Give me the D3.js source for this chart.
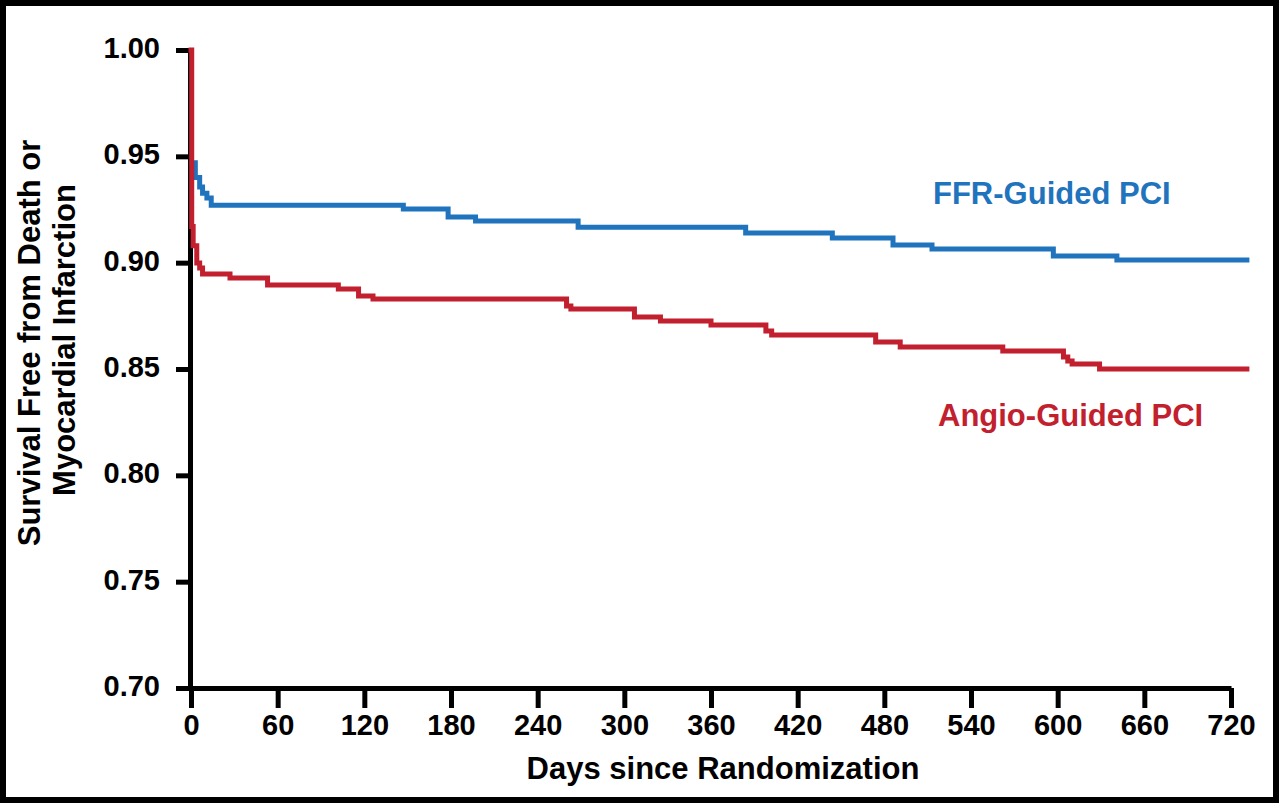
<!DOCTYPE html>
<html>
<head>
<meta charset="utf-8">
<script src="https://cdn.jsdelivr.net/npm/d3@7"></script>
<style>
	body { margin: 0; background: #fff; }
	svg { display: block; font-family: "Liberation Sans", Arial, sans-serif; font-weight: bold; }
</style>
</head>
<body>
<svg id="chart" width="1280" height="805"></svg>
<script>
// Kaplan-Meier steps (day, survival)
var ffrDays = [0.8, 3, 6, 8, 11, 14, 147, 178, 197, 268, 384, 444, 486, 513, 597, 641, 731];
var ffrSurv = [0.947, 0.940, 0.9356, 0.9327, 0.9304, 0.927, 0.9252, 0.9215, 0.9196, 0.9167, 0.914, 0.9116, 0.9083, 0.9064, 0.9031, 0.9013, 0.9013];

var angioDays = [0, 0.5, 1.5, 4, 6, 8, 27, 53, 102, 116, 126, 260, 263, 307, 325, 360, 398, 402, 474, 491, 562, 604, 607, 610, 629, 731];
var angioSurv = [1.0, 0.917, 0.908, 0.8998, 0.8975, 0.8947, 0.8928, 0.8895, 0.8876, 0.8843, 0.8829, 0.8796, 0.8782, 0.8745, 0.8726, 0.8707, 0.8679, 0.866, 0.8627, 0.8603, 0.8585, 0.8556, 0.8538, 0.8524, 0.85, 0.85];

var xTicks = [0, 60, 120, 180, 240, 300, 360, 420, 480, 540, 600, 660, 720];
var yTicks = [0.70, 0.75, 0.80, 0.85, 0.90, 0.95, 1.00];

var seriesNames = ["FFR-Guided PCI", "Angio-Guided PCI"];
var seriesColors = ["#1f74bd", "#c21f2f"];

var svg = d3.select("#chart");

// frame around the whole picture
svg.append("rect")
	.attr("x", 3)
	.attr("y", 3)
	.attr("width", 1273)
	.attr("height", 797)
	.attr("fill", "none")
	.attr("stroke", "#000")
	.attr("stroke-width", 6);

var x = d3.scaleLinear()
	.domain([0, 720])
	.range([191, 1231]);

var y = d3.scaleLinear()
	.domain([0.70, 1.00])
	.range([688, 50]);

var xAxis = svg.append("g")
	.attr("transform", "translate(0,688)")
	.call(d3.axisBottom(x).tickValues(xTicks).tickSize(20).tickSizeOuter(0).tickPadding(6));

var yAxis = svg.append("g")
	.attr("transform", "translate(190,0)")
	.call(d3.axisLeft(y).tickValues(yTicks).tickSize(14).tickSizeOuter(0).tickPadding(16).tickFormat(d3.format(".2f")));

[xAxis, yAxis].forEach(function(axis) {
	axis.select(".domain").attr("stroke", "#000").attr("stroke-width", 5);
	axis.selectAll(".tick line").attr("stroke", "#000").attr("stroke-width", 5);
	axis.selectAll(".tick text")
		.attr("fill", "#000")
		.style("font-size", "29px")
		.style("font-family", "'Liberation Sans', Arial, sans-serif")
		.style("font-weight", "bold");
});
yAxis.selectAll(".tick text").attr("dy", "0.26em");

// axis titles
svg.append("text")
	.attr("x", 723)
	.attr("y", 779)
	.attr("text-anchor", "middle")
	.style("font-size", "31px")
	.text("Days since Randomization");

var yTitle = svg.append("g")
	.attr("transform", "rotate(-90)");
yTitle.append("text")
	.attr("x", -343)
	.attr("y", 40)
	.attr("text-anchor", "middle")
	.style("font-size", "31px")
	.text("Survival Free from Death or");
yTitle.append("text")
	.attr("x", -340)
	.attr("y", 75)
	.attr("text-anchor", "middle")
	.style("font-size", "31px")
	.text("Myocardial Infarction");

// step curves
var line = d3.line()
	.x(function(d) { return x(d.day); })
	.y(function(d) { return y(d.surv); })
	.curve(d3.curveStepAfter);

var seriesData = [
	ffrDays.map(function(d, i) { return { day: d, surv: ffrSurv[i] }; }),
	angioDays.map(function(d, i) { return { day: d, surv: angioSurv[i] }; })
];

svg.selectAll(".series")
	.data(seriesData)
	.enter().append("path")
	.attr("class", "series")
	.attr("d", line)
	.attr("fill", "none")
	.attr("stroke", function(d, i) { return seriesColors[i]; })
	.attr("stroke-width", 5)
	.attr("stroke-linecap", "square");

// labels next to the curves
var labelPos = [[933, 204], [938, 426]];
svg.selectAll(".label")
	.data(seriesNames)
	.enter().append("text")
	.attr("class", "label")
	.attr("x", function(d, i) { return labelPos[i][0]; })
	.attr("y", function(d, i) { return labelPos[i][1]; })
	.attr("fill", function(d, i) { return seriesColors[i]; })
	.style("font-size", "31px")
	.text(function(d) { return d; });
</script>
</body>
</html>
